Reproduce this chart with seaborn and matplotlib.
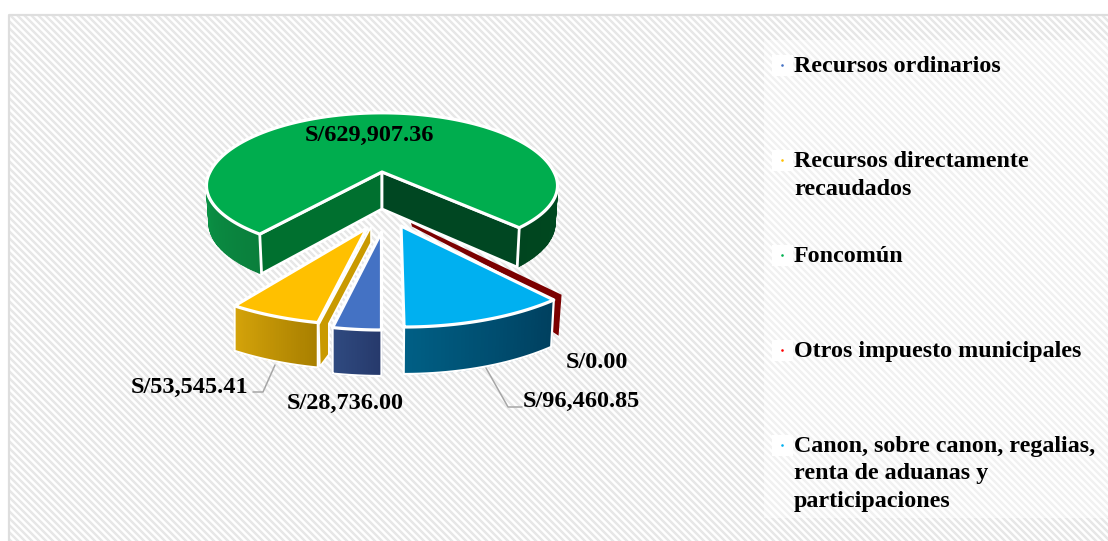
import numpy as np
import matplotlib
matplotlib.use("Agg")
import matplotlib.pyplot as plt
from matplotlib.patches import Rectangle
from matplotlib.collections import LineCollection
from matplotlib.colors import to_rgb
import seaborn as sns

categories = ["Recursos ordinarios", "Recursos directamente\nrecaudados", "Foncomún",
              "Otros impuesto municipales",
              "Canon, sobre canon, regalias,\nrenta de aduanas y\nparticipaciones"]
values = [28736.00, 53545.41, 629907.36, 0.00, 96460.85]
value_labels = ["S/28,736.00", "S/53,545.41", "S/629,907.36", "S/0.00", "S/96,460.85"]
top_colors = ["#4472C4", "#FFC000", "#00AD4E", "#7B0000", "#00B0F0"]
marker_colors = ["#4472C4", "#FFC000", "#00B050", "#FF0000", "#00B0F0"]

sns.set_theme(style="white")
plt.rcParams["font.family"] = ["Liberation Serif", "DejaVu Serif"]
plt.rcParams["font.weight"] = "bold"
palette = sns.color_palette(top_colors)

fig = plt.figure(figsize=(11.08, 5.41), dpi=100, facecolor="white")
ax = fig.add_axes([0, 0, 1, 1])
ax.set_xlim(0, 1108)
ax.set_ylim(541, 0)
ax.axis("off")

# background: diagonal stripes inside the frame
frame = Rectangle((9, 15), 1110, 540, fc="white", ec="none", zorder=0)
ax.add_patch(frame)
stripes = LineCollection([[(c, 0), (c + 600, 600)] for c in np.arange(-600, 1120, 7.0)],
                         colors="#E7E7E7", linewidths=1.75, zorder=0.2)
ax.add_collection(stripes)
stripes.set_clip_path(frame)
ax.plot([9, 9, 1108], [541, 15, 15], color="#DEDEDE", lw=1.6, zorder=0.5)
ax.add_patch(Rectangle((764, 40), 344, 478, fc="white", ec="none", alpha=0.45, zorder=0.6))

# angles, clockwise from north, first slice starts at the bottom
sweep = 360 * np.array(values) / np.sum(values)
starts = 180 + np.concatenate([[0], np.cumsum(sweep)[:-1]])
ends = starts + sweep


def rim(th, g):
    t = np.radians(th)
    c = np.cos(t)
    s = 1 / (1 + g["k"] * c)
    ry = np.where(c > 0, g.get("ry_far", g["ry"]), g["ry"])
    x = g["ax"] + g["rx"] * np.sin(t) * s - g.get("skew", 0) * c * g["ry"]
    y = g["ay"] - ry * c * s
    return x, y, s


def drop(x, y, s, g):
    return x + (381 - x) * g.get("conv", 0), y + g["h"] * s ** 0.4


def gradient_side(t0, t1, c0, c1, g, z, n=40, close=True):
    ths = np.linspace(t0, t1, n + 1)
    c0, c1 = np.array(to_rgb(c0)), np.array(to_rgb(c1))
    for i in range(n):
        xa, ya, sa = rim(ths[i], g)
        xb, yb, sb = rim(ths[i + 1], g)
        xc, yc = drop(xb, yb, sb, g)
        xd, yd = drop(xa, ya, sa, g)
        col = c0 + (c1 - c0) * i / (n - 1)
        ax.fill([xa, xb, xc, xd], [ya, yb, yc, yd], color=col, lw=1, zorder=z)
    xs, ys, ss = rim(ths, g)
    xd, yd = drop(xs, ys, ss, g)
    if close:
        ax.plot(np.r_[xs[0], xd, xs[-1]], np.r_[ys[0], yd, ys[-1]], color="white", lw=1.6, zorder=z + 0.1)


def top(t0, t1, g, color, z, lw=2.3):
    ths = np.linspace(t0, t1, 200)
    xs, ys, _ = rim(ths, g)
    ax.fill(np.r_[g["ax"], xs], np.r_[g["ay"], ys], fc=color, ec="white", lw=lw, joinstyle="round", zorder=z)


WHITE = "white"
# Foncomun
g = dict(ax=382, ay=172, rx=172, ry=65, ry_far=71, k=0.2, h=37, conv=0.015)
s0, e0 = starts[2], ends[2]
gradient_side(s0, 262, "#0A7F3C", "#0A9245", g, 1, close=False)
gradient_side(98, e0 - 360, "#004A20", "#00451F", g, 1, close=False)
for th, col in [(s0, "#00702F"), (e0, "#004722")]:
    x, y, sc = rim(th, g)
    xb, yb = drop(x, y, sc, g)
    ax.fill([g["ax"], x, xb, g["ax"]], [g["ay"], y, yb, g["ay"] + g["h"]], fc=col, ec=WHITE, lw=2, zorder=1.5)
top(s0, e0, g, palette[2], 2)

# Otros impuestos: zero sweep, only its cut face shows
g = dict(ax=411, ay=223, rx=221, ry=98, k=0, h=41)
x, y, _ = rim(starts[3], g)
ax.fill([g["ax"], x, x - 3, x - 9, x - 9, g["ax"] + 1],
        [g["ay"], y, y + 41, y + 37, y + 5, g["ay"] + 3.5],
        fc=palette[3], ec="none", zorder=3)

# Canon
g = dict(ax=401, ay=226, rx=221, ry=101, k=0, h=47, skew=0.03, conv=0.015)
gradient_side(starts[4], ends[4], "#00405F", "#005F85", g, 3.2)
top(starts[4], ends[4], g, palette[4], 3.5)

# Recursos ordinarios
g = dict(ax=381.5, ay=232, rx=221, ry=98, k=0, h=46, conv=0)
gradient_side(starts[0], ends[0], "#26396B", "#2F4A80", g, 3.2)
top(starts[0], ends[0], g, palette[0], 3.5)

# Recursos directamente recaudados
g = dict(ax=367, ay=228, rx=222, ry=97, k=0, h=45, conv=0)
x, y, _ = rim(starts[1], g)
ax.fill([g["ax"] + 4, x + 1, x + 2, x + 11, x + 11, g["ax"] + 4],
        [g["ay"] - 1, y + 2, y + 44, y + 32, y + 1, g["ay"] + 15],
        fc="#C99A00", ec=WHITE, lw=1.2, zorder=3.2)
gradient_side(starts[1], ends[1], "#A87F00", "#D4A30A", g, 3.3)
top(starts[1], ends[1], g, palette[1], 3.5)

# leader lines
lead = "#A6A6A6"
ax.plot([275, 263, 253], [365, 392, 392], color=lead, lw=1.1, zorder=4)
ax.plot([486, 508, 522], [368, 407, 407], color=lead, lw=1.1, zorder=4)

# value labels
fs = 17.5
label_pos = [(287, 403, "left"), (131, 387, "left"), (305, 135, "left"), (566, 363, "left"), (523, 401, "left")]
for txt, (x, y, ha) in zip(value_labels, label_pos):
    ax.text(x, y, txt, fontsize=fs, fontweight="bold", color="black", ha=ha, va="center", zorder=5)

# legend
legend_y = [67, 175.5, 257, 352, 474]
for name, col, y, in zip(categories, marker_colors, legend_y):
    first = y - 2 - (name.count("\n")) * 13.75
    ax.add_patch(Rectangle((772, first - 10), 21, 21, fc="white", ec="none", zorder=1))
    ax.scatter([782], [first], s=3.5, color=col, lw=0, zorder=2)
    ax.text(794, y, name, fontsize=17.3, fontweight="bold", color="black", ha="left", va="center",
            linespacing=1.38, zorder=5)

fig.savefig("out.png", dpi=100, facecolor="white")
